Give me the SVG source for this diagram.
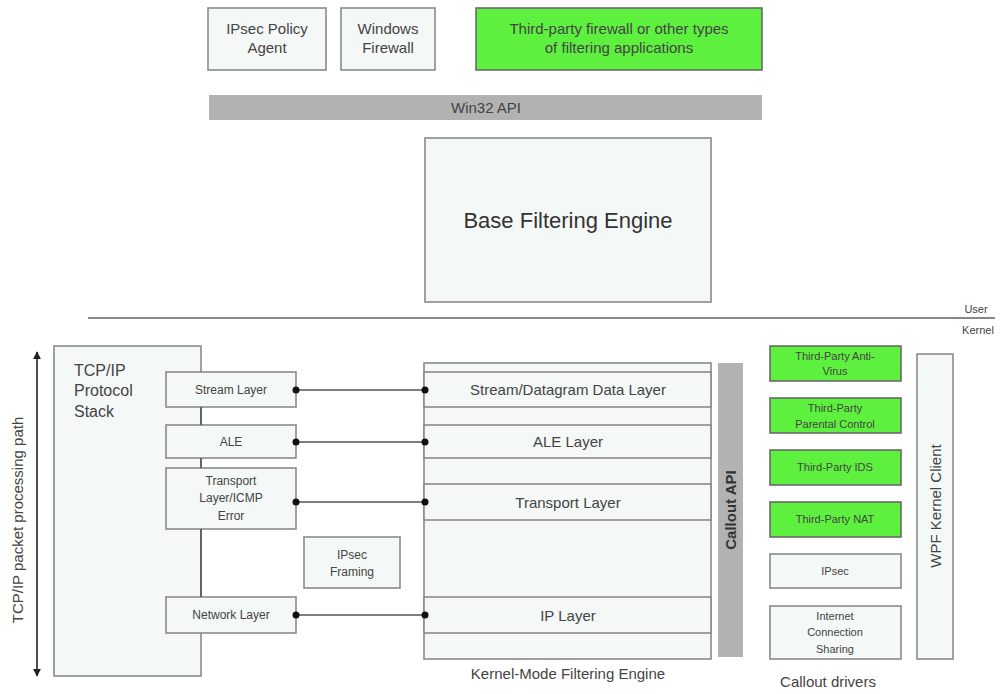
<svg xmlns="http://www.w3.org/2000/svg" width="1005" height="694" viewBox="0 0 1005 694">
<style>
text{font-family:"Liberation Sans",Arial,sans-serif;fill:#444;text-anchor:middle}
.box{fill:#f4f8f6;stroke:#8a8a8a;stroke-width:1.6}
.green{fill:#5ef03e;stroke:#6a6a6a;stroke-width:1.6}
.bar{fill:#b2b2b2;stroke:none}
.ln{stroke:#555;stroke-width:1.6;fill:none}
.t15{font-size:15px}
.t12{font-size:12px}
.t11{font-size:11px}
</style>
<defs>
<marker id="ah" viewBox="0 0 10 10" refX="9" refY="5" markerWidth="5" markerHeight="5" orient="auto-start-reverse"><path d="M0,0L10,5L0,10z" fill="#222"/></marker>
</defs>
<rect width="1005" height="694" fill="#fff"/>

<g id="ipsec-policy-agent"><rect class="box" x="208" y="8" width="118" height="62"/><text class="t15" x="267" y="34">IPsec Policy</text><text class="t15" x="267" y="53">Agent</text></g>
<g id="windows-firewall"><rect class="box" x="341" y="8" width="94" height="62"/><text class="t15" x="388" y="34">Windows</text><text class="t15" x="388" y="53">Firewall</text></g>
<g id="third-party-firewall"><rect class="green" x="476" y="8" width="286" height="62"/><text class="t15" x="619" y="34">Third-party firewall or other types</text><text class="t15" x="619" y="53">of filtering applications</text></g>
<g id="win32-api"><rect class="bar" x="209" y="95" width="553" height="25"/><text class="t15" x="486" y="113">Win32 API</text></g>
<g id="bfe"><rect class="box" x="425" y="138" width="286" height="164"/><text x="568" y="228" style="font-size:22px;fill:#333">Base Filtering Engine</text></g>

<g id="user-kernel"><line x1="88" y1="318" x2="995" y2="318" stroke="#888" stroke-width="2"/><text class="t11" x="976" y="313">User</text><text class="t11" x="978" y="334">Kernel</text></g>

<g id="path-arrow"><line class="ln" x1="37" y1="352" x2="37" y2="676" marker-start="url(#ah)" marker-end="url(#ah)" style="stroke:#222"/><text class="t15" transform="translate(23,520) rotate(-90)">TCP/IP packet processing path</text></g>

<g id="tcpip-stack"><rect class="box" x="54" y="346" width="147" height="330"/><text class="t15" x="74" y="376" style="text-anchor:start;font-size:16px">TCP/IP</text><text x="74" y="396" style="text-anchor:start;font-size:16px">Protocol</text><text x="74" y="417" style="text-anchor:start;font-size:16px">Stack</text></g>

<g id="stream-layer"><rect class="box" x="166" y="372" width="130" height="35"/><text class="t12" x="231" y="394">Stream Layer</text></g>
<g id="ale"><rect class="box" x="166" y="425" width="130" height="33"/><text class="t12" x="231" y="446">ALE</text></g>
<g id="transport"><rect class="box" x="166" y="468" width="130" height="61"/><text class="t12" x="231" y="485">Transport</text><text class="t12" x="231" y="502">Layer/ICMP</text><text class="t12" x="231" y="520">Error</text></g>
<g id="ipsec-framing"><rect class="box" x="304" y="537" width="96" height="51"/><text class="t12" x="352" y="559">IPsec</text><text class="t12" x="352" y="576">Framing</text></g>
<g id="network-layer"><rect class="box" x="166" y="597" width="130" height="36"/><text class="t12" x="231" y="619">Network Layer</text></g>

<g id="kmfe"><rect class="box" x="424" y="363" width="287" height="296"/>
<rect class="box" x="424" y="372" width="287" height="35"/>
<rect class="box" x="424" y="425" width="287" height="33"/>
<rect class="box" x="424" y="484" width="287" height="36"/>
<rect class="box" x="424" y="597" width="287" height="36"/>
<text class="t15" x="568" y="395">Stream/Datagram Data Layer</text>
<text class="t15" x="568" y="447">ALE Layer</text>
<text class="t15" x="568" y="508">Transport Layer</text>
<text class="t15" x="568" y="621">IP Layer</text>
<text class="t15" x="568" y="679">Kernel-Mode Filtering Engine</text></g>

<g id="callout-api"><rect class="bar" x="718" y="363" width="25" height="294"/><text transform="translate(736,510) rotate(-90)" style="font-size:15px;font-weight:bold;fill:#333">Callout API</text></g>

<g id="av"><rect class="green" x="770" y="346" width="131" height="35"/><text class="t11" x="835" y="360">Third-Party Anti-</text><text class="t11" x="835" y="375">Virus</text></g>
<g id="parental"><rect class="green" x="770" y="398" width="131" height="35"/><text class="t11" x="835" y="412">Third-Party</text><text class="t11" x="835" y="428">Parental Control</text></g>
<g id="ids"><rect class="green" x="770" y="450" width="131" height="35"/><text class="t11" x="835" y="471">Third-Party IDS</text></g>
<g id="nat"><rect class="green" x="770" y="502" width="131" height="35"/><text class="t11" x="835" y="523">Third-Party NAT</text></g>
<g id="ipsec-drv"><rect class="box" x="770" y="554" width="131" height="34"/><text class="t11" x="835" y="575">IPsec</text></g>
<g id="ics"><rect class="box" x="770" y="606" width="131" height="53"/><text class="t11" x="835" y="620">Internet</text><text class="t11" x="835" y="636">Connection</text><text class="t11" x="835" y="653">Sharing</text></g>
<g id="wpf"><rect class="box" x="917" y="354" width="36" height="305"/><text transform="translate(941,506) rotate(-90)" class="t15">WPF Kernel Client</text></g>
<text class="t15" x="828" y="687">Callout drivers</text>

<g id="connectors">
<line class="ln" x1="201" y1="407" x2="201" y2="425"/>
<line class="ln" x1="201" y1="458" x2="201" y2="468"/>
<line class="ln" x1="201" y1="529" x2="201" y2="597"/>
<line class="ln" x1="296" y1="390" x2="425" y2="390"/>
<line class="ln" x1="296" y1="442" x2="425" y2="442"/>
<line class="ln" x1="296" y1="502" x2="425" y2="502"/>
<line class="ln" x1="296" y1="615" x2="425" y2="615"/>
<g fill="#111"><circle cx="296" cy="390" r="3.5"/><circle cx="425" cy="390" r="3.5"/><circle cx="296" cy="442" r="3.5"/><circle cx="425" cy="442" r="3.5"/><circle cx="296" cy="502" r="3.5"/><circle cx="425" cy="502" r="3.5"/><circle cx="296" cy="615" r="3.5"/><circle cx="425" cy="615" r="3.5"/></g>
</g>
</svg>
